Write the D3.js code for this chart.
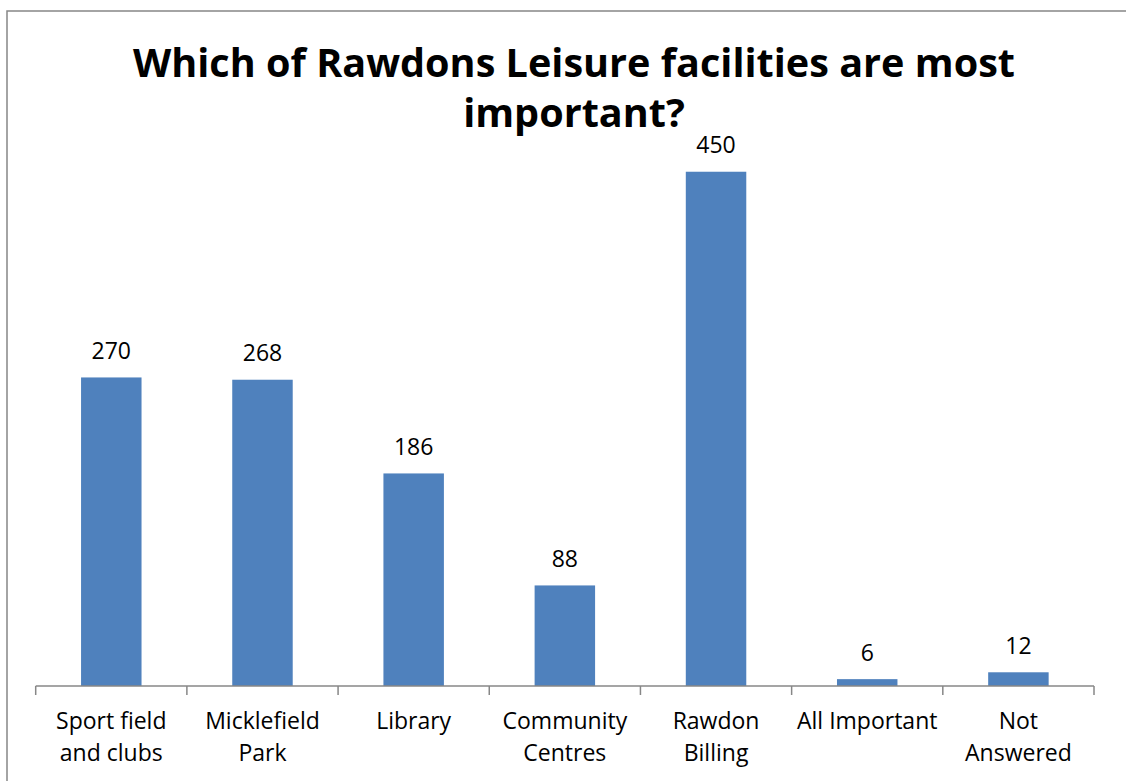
<!DOCTYPE html>
<html>
<head>
<meta charset="utf-8">
<script src="https://cdn.jsdelivr.net/npm/d3@7"></script>
<style>
  html, body { margin: 0; padding: 0; background: #fff; }
  svg { display: block; }
</style>
</head>
<body>
<svg id="chart" width="1126" height="781"></svg>
<script>
// Survey answers: which leisure facilities matter most
const categories = [
  ["Sport field", "and clubs"],
  ["Micklefield", "Park"],
  ["Library"],
  ["Community", "Centres"],
  ["Rawdon", "Billing"],
  ["All Important"],
  ["Not", "Answered"]
];
const counts = [270, 268, 186, 88, 450, 6, 12];
const titleLines = ["Which of Rawdons Leisure facilities are most", "important?"];

const W = 1126, H = 781;
const svg = d3.select("#chart");

// outer chart frame
svg.append("rect")
  .attr("x", 7).attr("y", 11)
  .attr("width", W + 20).attr("height", H + 20)
  .attr("fill", "#fff")
  .attr("stroke", "#878787")
  .attr("stroke-width", 1.5);

const plot = { left: 35.7, right: 1094, top: 114.6, bottom: 686 };

const keys = categories.map((c, i) => i);
const x = d3.scaleBand().domain(keys).range([plot.left, plot.right]).padding(0);
const y = d3.scaleLinear().domain([0, 500]).range([plot.bottom, plot.top]);
const barW = x.bandwidth() * 0.4;

const labelFont = "'Open Sans', 'DejaVu Sans', sans-serif";

// bars
svg.append("g").selectAll("rect")
  .data(counts)
  .join("rect")
  .attr("x", (d, i) => x(i) + (x.bandwidth() - barW) / 2)
  .attr("y", d => y(d))
  .attr("width", barW)
  .attr("height", d => y(0) - y(d))
  .attr("fill", "#4F81BD");

// value labels above each bar
svg.append("g").selectAll("text")
  .data(counts)
  .join("text")
  .attr("x", (d, i) => x(i) + x.bandwidth() / 2)
  .attr("y", d => y(d) - 18.5)
  .attr("text-anchor", "middle")
  .attr("font-family", labelFont)
  .attr("font-size", 23)
  .attr("fill", "#000")
  .text(d => d);

// category axis: baseline with ticks at the band boundaries
const axis = svg.append("g");
axis.append("line")
  .attr("x1", plot.left).attr("x2", plot.right)
  .attr("y1", plot.bottom).attr("y2", plot.bottom)
  .attr("stroke", "#878787").attr("stroke-width", 1.5);
const boundaries = keys.map(k => x(k)).concat([plot.right]);
axis.selectAll("line.tick")
  .data(boundaries)
  .join("line")
  .attr("class", "tick")
  .attr("x1", d => d).attr("x2", d => d)
  .attr("y1", plot.bottom).attr("y2", plot.bottom + 9)
  .attr("stroke", "#878787").attr("stroke-width", 1.5);

// category labels (one or two lines)
const catText = axis.selectAll("text.cat")
  .data(categories)
  .join("text")
  .attr("class", "cat")
  .attr("text-anchor", "middle")
  .attr("font-family", labelFont)
  .attr("font-size", 23)
  .attr("fill", "#000");
catText.selectAll("tspan")
  .data((d, i) => d.map(line => ({ line, i })))
  .join("tspan")
  .attr("x", d => x(d.i) + x.bandwidth() / 2)
  .attr("y", (d, j) => 729 + j * 32)
  .text(d => d.line);

// title, two centred bold lines
const title = svg.append("g").selectAll("text")
  .data(titleLines)
  .join("text")
  .attr("x", 574)
  .attr("y", (d, i) => 77 + i * 50)
  .attr("text-anchor", "middle")
  .attr("font-family", labelFont)
  .attr("font-weight", "bold")
  .attr("font-size", 40)
  .attr("fill", "#000")
  .text(d => d);

// keep the first title line to its set width
const firstLine = title.filter((d, i) => i === 0);
const natural = firstLine.node().getComputedTextLength();
const target = 882;
if (natural > target) {
  const ratio = target / natural;
  title.each(function () {
    const w = this.getComputedTextLength();
    d3.select(this).attr("textLength", w * ratio).attr("lengthAdjust", "spacingAndGlyphs");
  });
}
</script>
</body>
</html>
